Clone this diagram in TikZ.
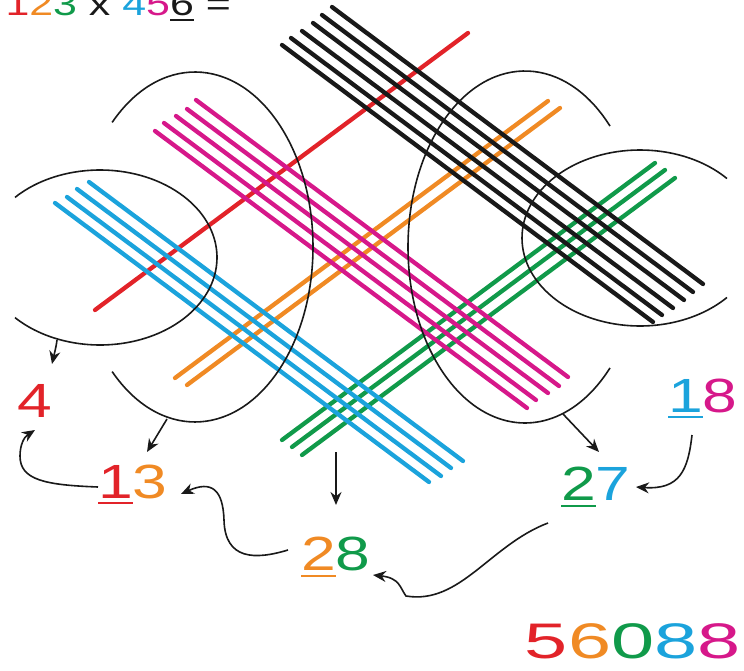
\documentclass[tikz,border=0pt]{standalone}
\usepackage{fontspec}
\setmainfont{Liberation Sans}
\usetikzlibrary{arrows.meta}
\definecolor{cred}{RGB}{226,35,41}
\definecolor{corange}{RGB}{240,138,36}
\definecolor{cgreen}{RGB}{16,154,74}
\definecolor{ccyan}{RGB}{27,163,220}
\definecolor{cmagenta}{RGB}{214,24,138}
\definecolor{cblack}{RGB}{25,25,25}
\newcommand\ulx[3]{{\color{#1}\setbox0\hbox{#2}\rlap{\rule[#3]{\wd0}{2pt}}\box0}}
\begin{document}
\begin{tikzpicture}[x=1pt,y=1pt,
  strand/.style={line width=4.3pt,line cap=round},
  arcline/.style={draw=cblack,line width=1.6pt},
  arr/.style={draw=cblack,line width=1.6pt,-{Stealth[length=13pt,width=11pt]}},
  lab/.style={inner sep=0pt,anchor=base west,font=\fontsize{48}{48}\selectfont}]
\useasboundingbox (0,0) rectangle (744,-671);
% up-right strands
\draw[strand,cred] (95,-310) -- +(373,277);
\foreach \x/\y in {175/378,187/385} \draw[strand,corange] (\x,-\y) -- +(373,277);
\foreach \x/\y in {282/440,292/447,302/455} \draw[strand,cgreen] (\x,-\y) -- +(373,277);
% down-right strands
\foreach \x/\y in {282/45,291/38,302/31,313/23,322/15,332/7} \draw[strand,cblack] (\x,-\y) -- +(371,-277);
\foreach \x/\y in {155/131,164/123,176/116,187/109,196/100} \draw[strand,cmagenta] (\x,-\y) -- +(372,-277);
\foreach \x/\y in {55/203,67/197,77/189,89/182} \draw[strand,ccyan] (\x,-\y) -- +(374,-279);
% arcs
\coordinate (c1) at (100,-257.5);
\coordinate (c2) at (195,-247);
\coordinate (c3) at (525,-247);
\coordinate (c4) at (640,-238);
\draw[arcline] ([shift={(136.6:117pt and 87.5pt)}]c1) arc[start angle=136.6,end angle=-136.6,x radius=117pt,y radius=87.5pt];
\draw[arcline] ([shift={(134.6:118pt and 175pt)}]c2) arc[start angle=134.6,end angle=-134.6,x radius=118pt,y radius=175pt];
\draw[arcline] ([shift={(43.4:117pt and 176pt)}]c3) arc[start angle=43.4,end angle=316.6,x radius=117pt,y radius=176pt];
\draw[arcline] ([shift={(42.5:118pt and 88pt)}]c4) arc[start angle=42.5,end angle=317.5,x radius=118pt,y radius=88pt];
% texts
\node[inner sep=0pt,anchor=base west,font=\fontsize{33}{33}\selectfont] (title) at (5.3,-16)
  {\scalebox{1.3}[1]{{\color{cred}1}{\color{corange}2}{\color{cgreen}3}\ {\color{cblack}x}\ {\color{ccyan}4}{\color{cmagenta}5}\ulx{cblack}{6}{-5pt}\ {\color{cblack}=}}};
\node[lab] (four) at (17,-417) {\scalebox{1.3}[1]{\color{cred}4}};
\node[lab] (thirteen) at (98,-498) {\scalebox{1.3}[1]{\ulx{cred}{1}{-6pt}\color{corange}3}};
\node[lab] (twentyeight) at (301,-570) {\scalebox{1.3}[1]{\ulx{corange}{2}{-7pt}\color{cgreen}8}};
\node[lab] (twentyseven) at (561,-500) {\scalebox{1.3}[1]{\ulx{cgreen}{2}{-7pt}\color{ccyan}7}};
\node[lab] (eighteen) at (668,-412) {\scalebox{1.3}[1]{\ulx{ccyan}{1}{-6pt}\color{cmagenta}8}};
\node[lab,font=\fontsize{50}{50}\selectfont] (result) at (524.7,-658)
  {\scalebox{1.55}[1]{\color{cred}5\color{corange}6\color{cgreen}0\color{ccyan}8\color{cmagenta}8}};
% arrow end points
\coordinate (a1s) at (57,-340);  \coordinate (a1e) at (52,-364);
\coordinate (a2s) at (167,-419); \coordinate (a2e) at (147,-452);
\coordinate (a3s) at (336,-452); \coordinate (a3e) at (336,-505);
\coordinate (a4s) at (563,-414); \coordinate (a4e) at (599,-452);
\coordinate (b1s) at (98,-487);  \coordinate (b1e) at (35,-430);
\coordinate (b2s) at (288,-550); \coordinate (b2e) at (181,-494);
\coordinate (b3s) at (548,-523); \coordinate (b3e) at (373,-575);
\coordinate (b4s) at (692,-435); \coordinate (b4e) at (636,-487);
% arrows
\draw[arr] (a1s) .. controls (56,-348) and (54,-355) .. (a1e);
\draw[arr] (a2s) -- (a2e);
\draw[arr] (a3s) -- (a3e);
\draw[arr] (a4s) -- (a4e);
\draw[arr] (b1s) .. controls (45,-485) and (20,-480) .. (20,-456) .. controls (20,-445) and (24,-437) .. (b1e);
\draw[arr] (b2s) .. controls (255,-560) and (225,-560) .. (224,-520) .. controls (223,-490) and (212,-480) .. (b2e);
\draw[arr] (b3s) .. controls (490,-545) and (460,-605) .. (406,-596) .. controls (400,-588) and (400,-578) .. (b3e);
\draw[arr] (b4s) .. controls (688,-470) and (680,-490) .. (b4e);
\end{tikzpicture}
\end{document}
